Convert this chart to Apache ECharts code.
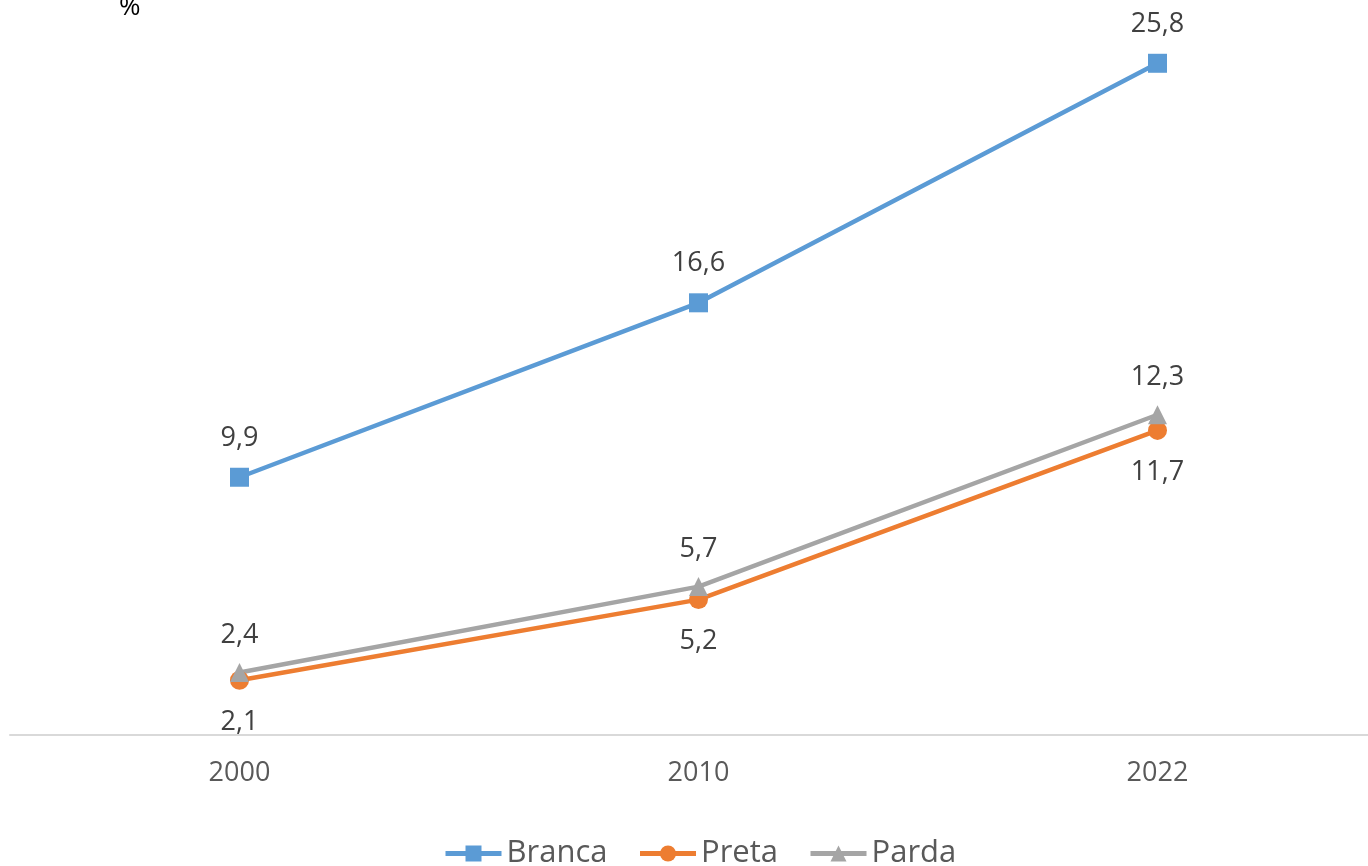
<!DOCTYPE html>
<html><head><meta charset="utf-8">
<script src="https://cdn.jsdelivr.net/npm/echarts@6/dist/echarts.min.js"></script>
<style>html,body{margin:0;padding:0;background:#fff}#c{width:1368px;height:866px}</style>
</head><body><div id="c"></div>
<script>
const categories = ['2000', '2010', '2022'];
const branca = [9.9, 16.6, 25.8];
const preta = [2.1, 5.2, 11.7];
const parda = [2.4, 5.7, 12.3];
const unitLabel = '%';

const fmt = p => String(p.value).replace('.', ',');
const FONT = '"Open Sans", "Noto Sans", sans-serif';
const chart = echarts.init(document.getElementById('c'));
chart.setOption({
  animation: false,
  backgroundColor: '#fff',
  textStyle: { fontFamily: FONT },
  graphic: [{ type: 'text', left: 119, top: -5, style: { text: unitLabel, font: '26px ' + FONT, fill: '#000' } }],
  grid: { left: 10, width: 1377, top: 6, bottom: 131, containLabel: false, outerBoundsMode: 'none' },
  legend: {
    bottom: -8, left: 438, itemWidth: 56, itemHeight: 20, itemGap: 30,
    lineStyle: { width: 5 },
    textStyle: { fontSize: 31, color: '#595959', fontFamily: FONT },
    data: ['Branca', 'Preta', 'Parda']
  },
  xAxis: {
    type: 'category', data: categories, boundaryGap: true,
    axisLine: { lineStyle: { color: '#d9d9d9', width: 2 } },
    axisTick: { show: false },
    axisLabel: { fontSize: 27, color: '#595959', margin: 25, fontFamily: FONT }
  },
  yAxis: { type: 'value', min: 0, max: 28, show: false, splitLine: { show: false } },
  series: [
    { name: 'Branca', type: 'line', data: branca, symbol: 'rect', symbolSize: 19,
      itemStyle: { color: '#5B9BD5' }, lineStyle: { width: 4.5, color: '#5B9BD5' },
      label: { show: true, position: 'top', distance: 16, fontSize: 27, color: '#404040', formatter: fmt } },
    { name: 'Preta', type: 'line', data: preta, symbol: 'circle', symbolSize: 19,
      itemStyle: { color: '#ED7D31' }, lineStyle: { width: 4.5, color: '#ED7D31' },
      label: { show: true, position: 'bottom', distance: 19, fontSize: 27, color: '#404040', formatter: fmt } },
    { name: 'Parda', type: 'line', data: parda, symbol: 'triangle', symbolSize: 19,
      itemStyle: { color: '#A5A5A5' }, lineStyle: { width: 4.5, color: '#A5A5A5' },
      label: { show: true, position: 'top', distance: 14, fontSize: 27, color: '#404040', formatter: fmt } }
  ]
});
</script></body></html>
